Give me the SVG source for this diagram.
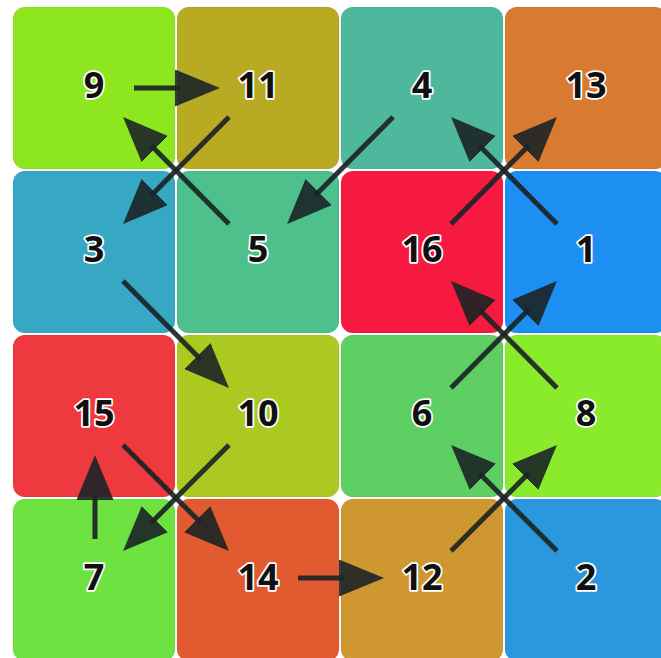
<svg xmlns="http://www.w3.org/2000/svg" width="661" height="658" viewBox="0 0 661 658">
<style>
.cell{stroke:rgba(0,0,0,0.06);stroke-width:1}
.lbl{font-family:"Open Sans","Noto Sans","DejaVu Sans",sans-serif;font-weight:700;font-size:36px;fill:#111;stroke:#fff;stroke-width:3.5;stroke-linejoin:round;paint-order:stroke;text-anchor:middle}
.edge{fill:none;stroke:#1b2426;stroke-width:5;stroke-opacity:0.92;marker-end:url(#ah)}
</style>
<defs>
<marker id="ah" markerUnits="userSpaceOnUse" markerWidth="46" markerHeight="38" refX="5" refY="18.5" orient="auto" viewBox="0 0 46 38">
<path d="M0,0 L45,18.5 L0,37 Z" fill="#1b2426" fill-opacity="0.9"/>
</marker>
</defs>
<rect width="661" height="658" fill="#fff"/>
<g id="n9"><rect class="cell" x="13" y="7" width="162" height="162" rx="12" fill="#8ee61e"/><text class="lbl" x="94" y="98">9</text></g>
<g id="n11"><rect class="cell" x="177" y="7" width="162" height="162" rx="12" fill="#b8aa22"/><text class="lbl" x="258" y="98">11</text></g>
<g id="n4"><rect class="cell" x="341" y="7" width="162" height="162" rx="12" fill="#4db89c"/><text class="lbl" x="422" y="98">4</text></g>
<g id="n13"><rect class="cell" x="505" y="7" width="162" height="162" rx="12" fill="#d87b30"/><text class="lbl" x="586" y="98">13</text></g>
<g id="n3"><rect class="cell" x="13" y="171" width="162" height="162" rx="12" fill="#36a8c4"/><text class="lbl" x="94" y="262">3</text></g>
<g id="n5"><rect class="cell" x="177" y="171" width="162" height="162" rx="12" fill="#4dc08c"/><text class="lbl" x="258" y="262">5</text></g>
<g id="n16"><rect class="cell" x="341" y="171" width="162" height="162" rx="12" fill="#f71a40"/><text class="lbl" x="422" y="262">16</text></g>
<g id="n1"><rect class="cell" x="505" y="171" width="162" height="162" rx="12" fill="#1e8ff2"/><text class="lbl" x="586" y="262">1</text></g>
<g id="n15"><rect class="cell" x="13" y="335" width="162" height="162" rx="12" fill="#ee3a3e"/><text class="lbl" x="94" y="426">15</text></g>
<g id="n10"><rect class="cell" x="177" y="335" width="162" height="162" rx="12" fill="#acc922"/><text class="lbl" x="258" y="426">10</text></g>
<g id="n6"><rect class="cell" x="341" y="335" width="162" height="162" rx="12" fill="#5ecf63"/><text class="lbl" x="422" y="426">6</text></g>
<g id="n8"><rect class="cell" x="505" y="335" width="162" height="162" rx="12" fill="#8aeb2c"/><text class="lbl" x="586" y="426">8</text></g>
<g id="n7"><rect class="cell" x="13" y="499" width="162" height="162" rx="12" fill="#6de240"/><text class="lbl" x="94" y="590">7</text></g>
<g id="n14"><rect class="cell" x="177" y="499" width="162" height="162" rx="12" fill="#e25a30"/><text class="lbl" x="258" y="590">14</text></g>
<g id="n12"><rect class="cell" x="341" y="499" width="162" height="162" rx="12" fill="#cf9730"/><text class="lbl" x="422" y="590">12</text></g>
<g id="n2"><rect class="cell" x="505" y="499" width="162" height="162" rx="12" fill="#2b98de"/><text class="lbl" x="586" y="590">2</text></g>
<g id="connectors">
<path class="edge" d="M134,88 L180,88"/>
<path class="edge" d="M229,117 L151.2,195.6"/>
<path class="edge" d="M229,224 L151.2,145.4"/>
<path class="edge" d="M393,117 L315.2,195.6"/>
<path class="edge" d="M557,224 L479.2,145.4"/>
<path class="edge" d="M451,224 L528.8,145.4"/>
<path class="edge" d="M557,388 L479.2,309.4"/>
<path class="edge" d="M451,388 L528.8,309.4"/>
<path class="edge" d="M123,281 L200.8,359.6"/>
<path class="edge" d="M229,445 L151.3,522.7"/>
<path class="edge" d="M123,445 L200.7,522.7"/>
<path class="edge" d="M95,539 L95,495"/>
<path class="edge" d="M298,578 L344,578"/>
<path class="edge" d="M451,551 L528.7,473.3"/>
<path class="edge" d="M557,551 L479.3,473.3"/>
</g>
</svg>
